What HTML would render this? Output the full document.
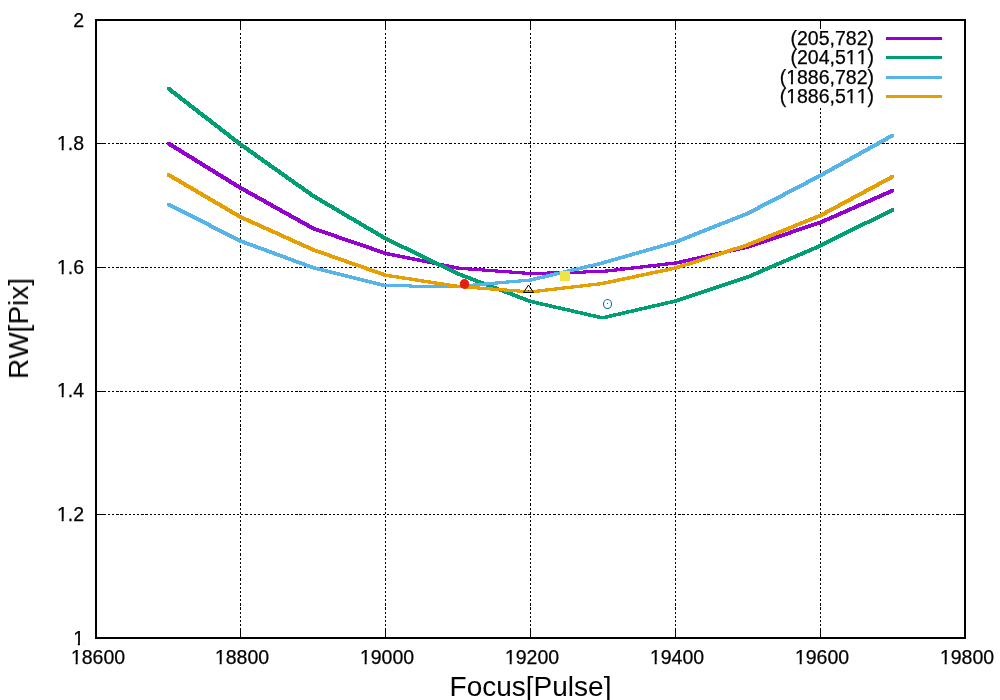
<!DOCTYPE html>
<html><head><meta charset="utf-8"><style>html,body{margin:0;padding:0;background:#fff;overflow:hidden;}svg{display:block;}text{font-kerning:none;font-feature-settings:"kern" 0;}</style></head><body>
<svg width="1000" height="700" viewBox="0 0 1000 700" font-family="Liberation Sans, sans-serif">
<rect x="0" y="0" width="1000" height="700" fill="#fff"/>
<g stroke="#000" stroke-width="1" shape-rendering="crispEdges"><line x1="240.5" y1="628" x2="240.5" y2="637"/><line x1="240.5" y1="21" x2="240.5" y2="30"/><line x1="385.5" y1="628" x2="385.5" y2="637"/><line x1="385.5" y1="21" x2="385.5" y2="30"/><line x1="530.5" y1="628" x2="530.5" y2="637"/><line x1="530.5" y1="21" x2="530.5" y2="30"/><line x1="675.5" y1="628" x2="675.5" y2="637"/><line x1="675.5" y1="21" x2="675.5" y2="30"/><line x1="820.5" y1="628" x2="820.5" y2="637"/><line x1="820.5" y1="21" x2="820.5" y2="29"/><line x1="97" y1="514.5" x2="106" y2="514.5"/><line x1="956" y1="514.5" x2="964" y2="514.5"/><line x1="97" y1="391.5" x2="106" y2="391.5"/><line x1="956" y1="391.5" x2="964" y2="391.5"/><line x1="97" y1="267.5" x2="106" y2="267.5"/><line x1="956" y1="267.5" x2="964" y2="267.5"/><line x1="97" y1="143.5" x2="106" y2="143.5"/><line x1="956" y1="143.5" x2="964" y2="143.5"/></g>
<g stroke="#000" stroke-width="1" stroke-dasharray="2.2 1.963" shape-rendering="crispEdges"><line x1="240.5" y1="33" x2="240.5" y2="627"/><line x1="385.5" y1="33" x2="385.5" y2="627"/><line x1="530.5" y1="33" x2="530.5" y2="627"/><line x1="675.5" y1="33" x2="675.5" y2="627"/><line x1="820.5" y1="107.934" x2="820.5" y2="627"/><line x1="108" y1="514.5" x2="956" y2="514.5"/><line x1="108" y1="391.5" x2="956" y2="391.5"/><line x1="108" y1="267.5" x2="956" y2="267.5"/><line x1="108" y1="143.5" x2="956" y2="143.5"/></g>
<path d="M167,142 L170,142 L242,186.4 L242,189.4 L239,189.4 L167,145ZM239,186.4 L242,186.4 L315,227.1 L315,230.1 L312,230.1 L239,189.4ZM312,227.1 L315,227.1 L387,251.8 L387,254.8 L384,254.8 L312,230.1ZM384,251.8 L387,251.8 L460,266.7 L460,269.7 L457,269.7 L384,254.8ZM457,266.7 L460,266.7 L532,272 L532,275 L529,275 L457,269.7ZM529,272 L601,270 L604,270 L604,273 L532,275 L529,275ZM601,270 L674,261.5 L677,261.5 L677,264.5 L604,273 L601,273ZM674,261.5 L746,245.5 L749,245.5 L749,248.5 L677,264.5 L674,264.5ZM746,245.5 L819,220.9 L822,220.9 L822,223.9 L749,248.5 L746,248.5ZM819,220.9 L891,189.2 L894,189.2 L894,192.2 L822,223.9 L819,223.9Z" fill="#9400d3" shape-rendering="crispEdges"/>
<path d="M167,87.1 L170,87.1 L242,142.9 L242,145.9 L239,145.9 L167,90.1ZM239,142.9 L242,142.9 L315,194.6 L315,197.6 L312,197.6 L239,145.9ZM312,194.6 L315,194.6 L387,237 L387,240 L384,240 L312,197.6ZM384,237 L387,237 L460,272.5 L460,275.5 L457,275.5 L384,240ZM457,272.5 L460,272.5 L532,299.9 L532,302.9 L529,302.9 L457,275.5ZM529,299.9 L532,299.9 L604,316.4 L604,319.4 L601,319.4 L529,302.9ZM601,316.4 L674,299.5 L677,299.5 L677,302.5 L604,319.4 L601,319.4ZM674,299.5 L746,275.6 L749,275.6 L749,278.6 L677,302.5 L674,302.5ZM746,275.6 L819,244.2 L822,244.2 L822,247.2 L749,278.6 L746,278.6ZM819,244.2 L891,208.3 L894,208.3 L894,211.3 L822,247.2 L819,247.2Z" fill="#009e73" shape-rendering="crispEdges"/>
<path d="M167,202.9 L170,202.9 L242,239.5 L242,242.5 L239,242.5 L167,205.9ZM239,239.5 L242,239.5 L315,266.3 L315,269.3 L312,269.3 L239,242.5ZM312,266.3 L315,266.3 L387,284.3 L387,287.3 L384,287.3 L312,269.3ZM384,284.3 L387,284.3 L460,284.9 L460,287.9 L457,287.9 L384,287.3ZM457,284.9 L529,278.5 L532,278.5 L532,281.5 L460,287.9 L457,287.9ZM529,278.5 L601,261.5 L604,261.5 L604,264.5 L532,281.5 L529,281.5ZM601,261.5 L674,240.5 L677,240.5 L677,243.5 L604,264.5 L601,264.5ZM674,240.5 L746,212 L749,212 L749,215 L677,243.5 L674,243.5ZM746,212 L819,174 L822,174 L822,177 L749,215 L746,215ZM819,174 L891,134 L894,134 L894,137 L822,177 L819,177Z" fill="#56b4e9" shape-rendering="crispEdges"/>
<path d="M167,173.3 L170,173.3 L242,215.5 L242,218.5 L239,218.5 L167,176.3ZM239,215.5 L242,215.5 L315,248.4 L315,251.4 L312,251.4 L239,218.5ZM312,248.4 L315,248.4 L387,273.7 L387,276.7 L384,276.7 L312,251.4ZM384,273.7 L387,273.7 L460,285 L460,288 L457,288 L384,276.7ZM457,285 L460,285 L532,290.4 L532,293.4 L529,293.4 L457,288ZM529,290.4 L601,282 L604,282 L604,285 L532,293.4 L529,293.4ZM601,282 L674,266.5 L677,266.5 L677,269.5 L604,285 L601,285ZM674,266.5 L746,243.5 L749,243.5 L749,246.5 L677,269.5 L674,269.5ZM746,243.5 L819,214 L822,214 L822,217 L749,246.5 L746,246.5ZM819,214 L891,175.2 L894,175.2 L894,178.2 L822,217 L819,217Z" fill="#e69f00" shape-rendering="crispEdges"/>
<ellipse cx="464.5" cy="284" rx="4.7" ry="5" fill="#e51e10"/>
<rect x="560" y="271" width="10" height="10" fill="#f0e442"/>
<polygon points="528.5,285 523.5,292.5 533.5,292.5" fill="none" stroke="#000" stroke-width="1"/>
<circle cx="528.5" cy="290.5" r="0.6" fill="#000"/>
<ellipse cx="607.5" cy="304" rx="4" ry="4.5" fill="none" stroke="#0072b2" stroke-width="1.1"/>
<rect x="607" y="303" width="1" height="1" fill="#0072b2"/>
<rect x="96" y="20" width="869" height="618" fill="none" stroke="#000" stroke-width="2" shape-rendering="crispEdges"/>
<mask id="nf" maskUnits="userSpaceOnUse" x="0" y="0" width="1000" height="700"><rect x="0" y="0" width="1000" height="700" fill="#fff"/><g fill="#000"><rect x="72.95" y="642.50" width="4.94" height="3.8"/><rect x="79.92" y="642.50" width="3.85" height="3.8"/><rect x="56.70" y="518.50" width="4.94" height="3.8"/><rect x="63.67" y="518.50" width="3.85" height="3.8"/><rect x="56.70" y="394.50" width="4.94" height="3.8"/><rect x="63.67" y="394.50" width="3.85" height="3.8"/><rect x="56.70" y="271.50" width="4.94" height="3.8"/><rect x="63.67" y="271.50" width="3.85" height="3.8"/><rect x="56.70" y="147.50" width="4.94" height="3.8"/><rect x="63.67" y="147.50" width="3.85" height="3.8"/><rect x="70.69" y="661.50" width="4.94" height="3.8"/><rect x="77.66" y="661.50" width="3.85" height="3.8"/><rect x="214.69" y="661.50" width="4.94" height="3.8"/><rect x="221.66" y="661.50" width="3.85" height="3.8"/><rect x="359.69" y="661.50" width="4.94" height="3.8"/><rect x="366.66" y="661.50" width="3.85" height="3.8"/><rect x="504.69" y="661.50" width="4.94" height="3.8"/><rect x="511.66" y="661.50" width="3.85" height="3.8"/><rect x="649.69" y="661.50" width="4.94" height="3.8"/><rect x="656.66" y="661.50" width="3.85" height="3.8"/><rect x="794.69" y="661.50" width="4.94" height="3.8"/><rect x="801.66" y="661.50" width="3.85" height="3.8"/><rect x="939.69" y="661.50" width="4.94" height="3.8"/><rect x="946.66" y="661.50" width="3.85" height="3.8"/><rect x="845.61" y="61.50" width="4.94" height="3.8"/><rect x="852.57" y="61.50" width="3.85" height="3.8"/><rect x="856.45" y="61.50" width="4.94" height="3.8"/><rect x="863.42" y="61.50" width="3.85" height="3.8"/><rect x="785.97" y="81.50" width="4.94" height="3.8"/><rect x="792.93" y="81.50" width="3.85" height="3.8"/><rect x="785.97" y="100.50" width="4.94" height="3.8"/><rect x="792.93" y="100.50" width="3.85" height="3.8"/><rect x="845.61" y="100.50" width="4.94" height="3.8"/><rect x="852.57" y="100.50" width="3.85" height="3.8"/><rect x="856.45" y="100.50" width="4.94" height="3.8"/><rect x="863.42" y="100.50" width="3.85" height="3.8"/></g></mask>
<g font-size="19.5" fill="#000" stroke="#000" stroke-width="0.25" mask="url(#nf)"><text x="84" y="645" text-anchor="end">1</text><text x="84" y="521" text-anchor="end">1.2</text><text x="84" y="397" text-anchor="end">1.4</text><text x="84" y="274" text-anchor="end">1.6</text><text x="84" y="150" text-anchor="end">1.8</text><text x="84" y="27" text-anchor="end">2</text><text x="98.0" y="664" text-anchor="middle">18600</text><text x="242.0" y="664" text-anchor="middle">18800</text><text x="387.0" y="664" text-anchor="middle">19000</text><text x="532.0" y="664" text-anchor="middle">19200</text><text x="677.0" y="664" text-anchor="middle">19400</text><text x="822.0" y="664" text-anchor="middle">19600</text><text x="967.0" y="664" text-anchor="middle">19800</text><text x="874" y="45" text-anchor="end">(205,782)</text><text x="874" y="64" text-anchor="end">(204,511)</text><text x="874" y="84" text-anchor="end">(1886,782)</text><text x="874" y="103" text-anchor="end">(1886,511)</text></g>
<line x1="886" y1="38.5" x2="942" y2="38.5" stroke="#9400d3" stroke-width="3"/><line x1="886" y1="57.5" x2="942" y2="57.5" stroke="#009e73" stroke-width="3"/><line x1="886" y1="77.5" x2="942" y2="77.5" stroke="#56b4e9" stroke-width="3"/><line x1="886" y1="96.5" x2="942" y2="96.5" stroke="#e69f00" stroke-width="3"/>
<g mask="url(#nf)"><text x="530.5" y="696" text-anchor="middle" font-size="28">Focus[Pulse]</text><text transform="translate(28,328.5) rotate(-90)" text-anchor="middle" font-size="28">RW[Pix]</text></g>
</svg></body></html>
